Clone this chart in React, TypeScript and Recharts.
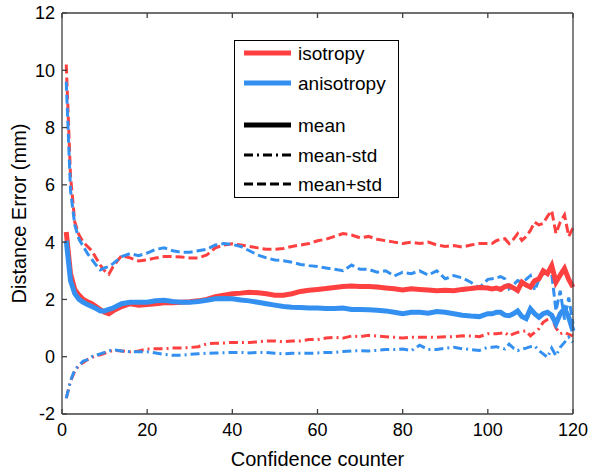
import React from 'react';
import { LineChart, Line, XAxis, YAxis, Legend } from 'recharts';

const xs = [
  1, 2, 3, 4, 5, 6, 7, 8, 9, 10, 11, 12,
  14, 16, 18, 20, 22, 24, 26, 28, 30, 32, 34, 36, 38, 40, 42, 44, 46, 48, 50, 52,
  54, 56, 58, 60, 62, 64, 66, 68, 70, 72, 74, 76, 78, 80, 82, 84, 86, 88, 90, 92,
  94, 96, 98, 100,
  101, 102, 103, 104, 105, 106, 107, 108, 109, 110, 111, 112, 113, 114, 115, 116, 117, 118, 119, 120,
];

const isoMean = [
  4.35, 2.9, 2.35, 2.15, 2.0, 1.92, 1.85, 1.75, 1.65, 1.55, 1.5, 1.6,
  1.75, 1.85, 1.8, 1.82, 1.85, 1.88, 1.88, 1.9, 1.92, 1.95, 2.0, 2.1, 2.15, 2.2, 2.22, 2.25, 2.23, 2.2, 2.15, 2.15,
  2.2, 2.28, 2.32, 2.35, 2.38, 2.42, 2.45, 2.47, 2.45, 2.45, 2.43, 2.4, 2.37, 2.33, 2.37, 2.35, 2.33, 2.3, 2.32, 2.3,
  2.35, 2.38, 2.42, 2.4,
  2.37, 2.4, 2.35, 2.45, 2.48, 2.4, 2.31, 2.6, 2.5, 2.43, 2.65, 2.72, 3.0, 2.9, 3.18, 2.6, 2.85, 3.08, 2.7, 2.43,
];

const anisoMean = [
  4.05, 2.65, 2.2, 2.0, 1.9, 1.82, 1.75, 1.68, 1.6, 1.6, 1.65, 1.7,
  1.85, 1.9, 1.9, 1.9, 1.95, 1.97, 1.93, 1.9, 1.9, 1.93, 1.97, 2.02, 2.03, 2.02, 1.98, 1.95, 1.9, 1.85, 1.8, 1.75,
  1.73, 1.72, 1.7, 1.7, 1.68, 1.68, 1.7, 1.65, 1.65, 1.64, 1.62, 1.6, 1.55, 1.5, 1.55, 1.55, 1.52, 1.58, 1.55, 1.5,
  1.45, 1.42, 1.4, 1.5,
  1.5, 1.55, 1.55, 1.45, 1.43, 1.5, 1.6, 1.4, 1.33, 1.67, 1.5, 1.38, 1.5, 1.55, 1.45, 1.15, 1.5, 1.68, 1.38, 0.9,
];

const isoPlus = [
  10.2, 6.3, 4.7, 4.25, 4.0, 3.85, 3.7, 3.45, 3.2, 3.0, 2.88, 3.15,
  3.53, 3.45, 3.34, 3.38, 3.45, 3.5, 3.5, 3.48, 3.45, 3.45, 3.55, 3.8, 3.9, 3.94, 3.9, 3.85, 3.8, 3.75, 3.75, 3.78,
  3.85, 3.9, 3.95, 4.05, 4.1, 4.2, 4.3, 4.25, 4.15, 4.2, 4.1, 4.05, 4.0, 3.95, 4.0, 3.95, 4.0, 3.9, 3.85, 3.88,
  3.83, 3.9, 3.95, 3.95,
  3.95, 4.05, 4.1, 4.12, 3.95, 4.1, 4.3, 4.06, 4.2, 4.41, 4.7, 4.6, 4.65, 4.9, 5.1, 4.3, 4.7, 4.95, 4.2, 4.5,
];

const anisoPlus = [
  9.6, 5.8, 4.6, 4.1, 3.85, 3.6, 3.4, 3.2, 3.03, 3.1, 3.15, 3.25,
  3.5, 3.6, 3.53, 3.62, 3.75, 3.8, 3.7, 3.65, 3.65, 3.7, 3.75, 3.9, 3.95, 3.92, 3.85, 3.7, 3.55, 3.45, 3.38, 3.35,
  3.3, 3.22, 3.18, 3.15, 3.1, 3.05, 3.0, 3.2, 3.05, 3.05, 2.95, 3.0, 2.82, 2.95, 2.9, 3.0, 2.85, 3.0, 2.72, 2.83,
  2.75, 2.6, 2.4, 2.7,
  2.72, 2.75, 2.8, 2.72, 2.37, 2.5, 2.66, 2.6, 2.7, 2.83, 2.31, 2.7, 2.9, 2.95, 2.9, 1.6, 2.3, 1.3, 2.07, 1.15,
];

const isoMinus = [
  -1.45, -0.85, -0.5, -0.3, -0.2, -0.1, -0.03, 0.03, 0.07, 0.12, 0.18, 0.22,
  0.2, 0.17, 0.2, 0.27, 0.28, 0.28, 0.3, 0.3, 0.32, 0.35, 0.45, 0.47, 0.48, 0.5, 0.5, 0.5, 0.52, 0.55, 0.55, 0.52,
  0.55, 0.55, 0.6, 0.6, 0.65, 0.68, 0.65, 0.72, 0.7, 0.75, 0.72, 0.7, 0.68, 0.65, 0.68, 0.68, 0.68, 0.68, 0.7, 0.7,
  0.73, 0.72, 0.7, 0.8,
  0.8, 0.8, 0.82, 0.85, 0.73, 0.8, 0.85, 0.88, 0.9, 0.73, 0.85, 0.98, 1.2, 1.3, 1.38, 1.0, 0.8, 0.85, 0.78, 0.73,
];

const anisoMinus = [
  -1.45, -0.85, -0.45, -0.3, -0.15, -0.1, 0.0, 0.05, 0.1, 0.15, 0.2, 0.25,
  0.2, 0.18, 0.17, 0.17, 0.13, 0.08, 0.05, 0.05, 0.08, 0.1, 0.12, 0.13, 0.14, 0.15, 0.15, 0.13, 0.15, 0.15, 0.12, 0.1,
  0.12, 0.12, 0.12, 0.13, 0.15, 0.15, 0.18, 0.2, 0.21, 0.2, 0.22, 0.25, 0.25, 0.27, 0.21, 0.4, 0.25, 0.25, 0.3, 0.33,
  0.28, 0.25, 0.22, 0.33,
  0.33, 0.35, 0.3, 0.27, 0.44, 0.3, 0.21, 0.27, 0.3, 0.35, 0.38, 0.21, 0.1, -0.02, 0.3, 0.03, 0.33, 0.5, 0.68, 0.5,
];

const xTicks = [0, 20, 40, 60, 80, 100, 120];
const yTicks = [-2, 0, 2, 4, 6, 8, 10, 12];

const RED = '#ff4040';
const BLUE = '#3390f0';
const AXIS = '#404040';
const FONT = '"Liberation Sans", Arial, sans-serif';

const data = xs.map((x, i) => ({
  x,
  isoMean: isoMean[i],
  anisoMean: anisoMean[i],
  isoPlus: isoPlus[i],
  anisoPlus: anisoPlus[i],
  isoMinus: isoMinus[i],
  anisoMinus: anisoMinus[i],
}));

const legendRows = [
  { label: 'isotropy', color: RED, width: 5, dash: undefined, y: 13 },
  { label: 'anisotropy', color: BLUE, width: 5, dash: undefined, y: 43 },
  { label: 'mean', color: '#000', width: 5, dash: undefined, y: 85 },
  { label: 'mean-std', color: '#000', width: 3, dash: '9 4 2 4', y: 115 },
  { label: 'mean+std', color: '#000', width: 3, dash: '9 4', y: 144 },
];

function LegendBox() {
  return (
    <svg width={165} height={158} style={{ display: 'block' }}>
      <rect x={0.5} y={0.5} width={164} height={157} fill="#fff" stroke="#000" strokeWidth={1} />
      {legendRows.map((r) => (
        <g key={r.label}>
          <line x1={10} x2={57} y1={r.y} y2={r.y} stroke={r.color} strokeWidth={r.width} strokeDasharray={r.dash} />
          <text x={64} y={r.y} dy="0.35em" fontSize={19} fontFamily={FONT} fill="#000">
            {r.label}
          </text>
        </g>
      ))}
    </svg>
  );
}

const tickLine = { stroke: AXIS, strokeWidth: 1.3 };

export default function App() {
  return (
    <div style={{ position: 'absolute', left: 0, top: 0, background: '#fff' }}>
      <LineChart width={589} height={470} data={data} margin={{ top: 12, right: 15, bottom: 0, left: 0 }}>
        <XAxis
          dataKey="x"
          type="number"
          domain={[0, 120]}
          ticks={xTicks}
          height={56}
          stroke={AXIS}
          strokeWidth={1.3}
          tickLine={tickLine}
          tickSize={-5}
          tickMargin={14}
          tick={{ fill: '#000', fontSize: 18, fontFamily: FONT }}
          label={{ value: 'Confidence counter', position: 'insideBottom', offset: 4, fill: '#000', fontSize: 20, fontFamily: FONT }}
        />
        <XAxis
          xAxisId="top"
          orientation="top"
          dataKey="x"
          type="number"
          domain={[0, 120]}
          ticks={xTicks}
          height={1}
          stroke={AXIS}
          strokeWidth={1.3}
          tickLine={tickLine}
          tickSize={-5}
          tickFormatter={() => ''}
        />
        <YAxis
          type="number"
          domain={[-2, 12]}
          ticks={yTicks}
          width={62}
          stroke={AXIS}
          strokeWidth={1.3}
          tickLine={tickLine}
          tickSize={-5}
          tickMargin={12}
          tick={{ fill: '#000', fontSize: 18, fontFamily: FONT }}
          label={{ value: 'Distance Error (mm)', angle: -90, position: 'center', dx: -12, fill: '#000', fontSize: 20, fontFamily: FONT }}
        />
        <YAxis
          yAxisId="right"
          orientation="right"
          type="number"
          domain={[-2, 12]}
          ticks={yTicks}
          width={1}
          stroke={AXIS}
          strokeWidth={1.3}
          tickLine={tickLine}
          tickSize={-5}
          tickFormatter={() => ''}
        />
        <Legend
          layout="vertical"
          align="center"
          verticalAlign="middle"
          wrapperStyle={{ left: 234, top: 40, width: 165, height: 158 }}
          content={() => <LegendBox />}
        />
        <Line dataKey="isoPlus" stroke={RED} strokeWidth={3} strokeDasharray="9 4" dot={false} isAnimationActive={false} />
        <Line dataKey="anisoPlus" stroke={BLUE} strokeWidth={3} strokeDasharray="9 4" dot={false} isAnimationActive={false} />
        <Line dataKey="isoMinus" stroke={RED} strokeWidth={3} strokeDasharray="9 4 2 4" dot={false} isAnimationActive={false} />
        <Line dataKey="anisoMinus" stroke={BLUE} strokeWidth={3} strokeDasharray="9 4 2 4" dot={false} isAnimationActive={false} />
        <Line dataKey="isoMean" stroke={RED} strokeWidth={5} dot={false} isAnimationActive={false} />
        <Line dataKey="anisoMean" stroke={BLUE} strokeWidth={5} dot={false} isAnimationActive={false} />
      </LineChart>
    </div>
  );
}
